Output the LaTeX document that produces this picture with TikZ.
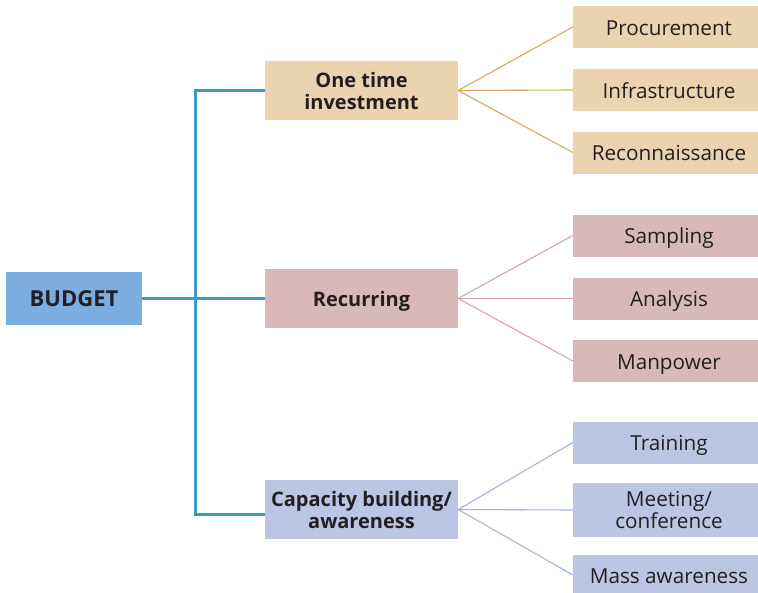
\documentclass[tikz,border=0pt]{standalone}
\usepackage{fontspec}
\setmainfont{Open Sans}
\usepackage{xcolor}
\definecolor{rootBlue}{HTML}{7BADDE}
\definecolor{trunkBlue}{HTML}{3A9AC0}
\definecolor{sandFill}{HTML}{EBD3B0}
\definecolor{sandLine}{HTML}{D4A95A}
\definecolor{roseFill}{HTML}{D9B8B9}
\definecolor{roseLine}{HTML}{D6A3AA}
\definecolor{lilacFill}{HTML}{BCC5E4}
\definecolor{lilacLine}{HTML}{A4B1DE}
\definecolor{darkText}{HTML}{231F20}
\usepackage{tikz}
\usetikzlibrary{positioning, calc}
\tikzset{
    % Base style for all boxes
    plain base/.style={
        rectangle,
        align=center,
        text=darkText,
        inner sep=2pt,
        font=\fontsize{20.7}{22}\selectfont,
    },
    % Single line text sits a little low in its box
    one line/.style={
        text height=19pt,
        text depth=3pt,
    },
    % Root box
    root/.style={
        plain base,
        one line,
        fill=rootBlue,
        minimum width=136pt,
        minimum height=53pt,
        font=\fontsize{22}{24}\selectfont\bfseries,
    },
    % Middle level boxes
    group/.style={
        plain base,
        minimum width=193pt,
        minimum height=59pt,
        font=\fontsize{20}{22}\selectfont\bfseries,
    },
    % Leaf boxes (run off the right edge)
    leaf/.style={
        plain base,
        minimum width=192pt,
        minimum height=42pt,
    },
    % Thick connector from the root
    trunk/.style={
        draw=trunkBlue,
        line width=3pt,
    },
    % Thin fan lines to the leaves
    twig/.style={
        line width=1.1pt,
    },
}

\begin{document}
\begin{tikzpicture}[x=1pt, y=-1pt]
    \useasboundingbox (0,0) rectangle (758,592);

    \node (budget) [root] at (74,298.5) {BUDGET};

    \node (onetime) [group, fill=sandFill] at (361.5,90.5) {One time\\investment};
    \node (recurring) [group, one line, fill=roseFill] at (361.5,298.5) {Recurring};
    \node (capacity) [group, fill=lilacFill] at (361.5,509.5) {Capacity building/\\awareness};

    \node (procure) [leaf, one line, fill=sandFill] at (669,27) {Procurement};
    \node (infra) [leaf, one line, fill=sandFill] at (669,90) {Infrastructure};
    \node (recon) [leaf, one line, fill=sandFill] at (669,152.5) {Reconnaissance};

    \node (sampling) [leaf, one line, fill=roseFill] at (669,235.5) {Sampling};
    \node (analysis) [leaf, one line, fill=roseFill] at (669,298.5) {Analysis};
    \node (manpower) [leaf, one line, fill=roseFill] at (669,361) {Manpower};

    \node (training) [leaf, one line, fill=lilacFill] at (669,442.5) {Training};
    \node (meeting) [leaf, fill=lilacFill, minimum height=54pt] at (669,510) {Meeting/\\conference};
    \node (mass) [leaf, one line, fill=lilacFill, minimum height=40pt] at (669,575) {Mass awareness};

    \coordinate (split) at (195,298.5);

    % blue trunk: root to the three groups
    \draw [trunk] (budget.east) -- (recurring.west);
    \draw [trunk] (onetime.west) -| (split) |- ([yshift=-4.5pt]capacity.west);

    \draw [twig, sandLine] (onetime.east) -- (procure.west);
    \draw [twig, sandLine] (onetime.east) -- (infra.west);
    \draw [twig, sandLine] (onetime.east) -- (recon.west);

    \draw [twig, roseLine] (recurring.east) -- (sampling.west);
    \draw [twig, roseLine] (recurring.east) -- (analysis.west);
    \draw [twig, roseLine] (recurring.east) -- (manpower.west);

    \draw [twig, lilacLine] (capacity.east) -- (training.west);
    \draw [twig, lilacLine] (capacity.east) -- (meeting.west);
    \draw [twig, lilacLine] (capacity.east) -- (mass.west);
\end{tikzpicture}
\end{document}
